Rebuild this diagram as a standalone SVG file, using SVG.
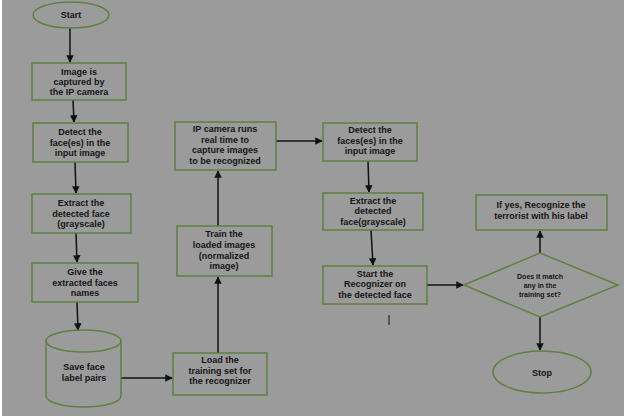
<svg xmlns="http://www.w3.org/2000/svg" width="624" height="418" viewBox="0 0 624 418">
<defs>
<style>
.n{fill:none;stroke:#5f8040;stroke-width:1.5}
.t{font-family:"Liberation Sans",Arial,sans-serif;font-weight:bold;font-size:9px;fill:#151515;text-anchor:middle}
.s{font-size:7px}
.c{stroke:#111;stroke-width:1.5;fill:none}
</style>
<marker id="a" viewBox="0 0 10 10" refX="9" refY="5" markerWidth="5" markerHeight="5" orient="auto"><path d="M0,0 L10,5 L0,10 z" fill="#111"/></marker>
</defs>
<rect x="0" y="0" width="624" height="418" fill="#ffffff"/>
<rect x="2" y="0" width="622" height="416" fill="#9b9b9b"/>

<g id="connectors">
<line class="c" x1="70" y1="28" x2="70" y2="62" marker-end="url(#a)"/>
<line class="c" x1="73" y1="100" x2="74" y2="122" marker-end="url(#a)"/>
<line class="c" x1="75" y1="162" x2="76" y2="193" marker-end="url(#a)"/>
<line class="c" x1="76" y1="233" x2="77" y2="262" marker-end="url(#a)"/>
<line class="c" x1="77" y1="302" x2="78" y2="330" marker-end="url(#a)"/>
<line class="c" x1="121" y1="378" x2="172" y2="378" marker-end="url(#a)"/>
<line class="c" x1="218" y1="353" x2="218" y2="277" marker-end="url(#a)"/>
<line class="c" x1="218" y1="226" x2="218" y2="171" marker-end="url(#a)"/>
<line class="c" x1="276" y1="141" x2="322" y2="141" marker-end="url(#a)"/>
<line class="c" x1="368" y1="161" x2="369" y2="192" marker-end="url(#a)"/>
<line class="c" x1="371" y1="230" x2="373" y2="265" marker-end="url(#a)"/>
<line class="c" x1="427" y1="285" x2="463" y2="285" marker-end="url(#a)"/>
<line class="c" x1="540" y1="253" x2="540" y2="231" marker-end="url(#a)"/>
<line class="c" x1="540" y1="317" x2="540" y2="350" marker-end="url(#a)"/>
<line stroke="#111" stroke-width="1" x1="389" y1="315" x2="389" y2="325"/>
</g>

<g id="start">
<ellipse class="n" cx="71" cy="15" rx="38" ry="13"/>
<text class="t" x="71" y="18">Start</text>
</g>

<g id="capture">
<rect class="n" x="32" y="63" width="94" height="37"/>
<text class="t" x="79" y="75">Image is</text>
<text class="t" x="79" y="85">captured by</text>
<text class="t" x="79" y="95">the IP camera</text>
</g>

<g id="detect1">
<rect class="n" x="33" y="123" width="95" height="39"/>
<text class="t" x="80" y="135">Detect the</text>
<text class="t" x="80" y="146">face(es) in the</text>
<text class="t" x="80" y="156">input image</text>
</g>

<g id="extract1">
<rect class="n" x="32" y="194" width="99" height="39"/>
<text class="t" x="81" y="206">Extract the</text>
<text class="t" x="81" y="217">detected face</text>
<text class="t" x="81" y="227">(grayscale)</text>
</g>

<g id="names">
<rect class="n" x="32" y="263" width="106" height="39"/>
<text class="t" x="85" y="275">Give the</text>
<text class="t" x="85" y="286">extracted faces</text>
<text class="t" x="85" y="296">names</text>
</g>

<g id="save">
<path class="n" d="M46,341 A37.5,11 0 0 1 121,341 L121,396 A37.5,11 0 0 1 46,396 Z"/>
<path class="n" d="M46,341 A37.5,11 0 0 0 121,341"/>
<text class="t" x="84" y="370">Save face</text>
<text class="t" x="84" y="381">label pairs</text>
</g>

<g id="load">
<rect class="n" x="173" y="353" width="94" height="42"/>
<text class="t" x="220" y="363">Load the</text>
<text class="t" x="220" y="374">training set for</text>
<text class="t" x="220" y="384">the recognizer</text>
</g>

<g id="train">
<rect class="n" x="177" y="226" width="95" height="50"/>
<text class="t" x="224" y="237">Train the</text>
<text class="t" x="224" y="248">loaded images</text>
<text class="t" x="224" y="259">(normalized</text>
<text class="t" x="224" y="269">image)</text>
</g>

<g id="ipcam">
<rect class="n" x="175" y="122" width="101" height="48"/>
<text class="t" x="225" y="132">IP camera runs</text>
<text class="t" x="225" y="143">real time to</text>
<text class="t" x="225" y="153">capture images</text>
<text class="t" x="225" y="164">to be recognized</text>
</g>

<g id="detect2">
<rect class="n" x="323" y="123" width="94" height="38"/>
<text class="t" x="370" y="133">Detect the</text>
<text class="t" x="370" y="144">faces(es) in the</text>
<text class="t" x="370" y="154">input image</text>
</g>

<g id="extract2">
<rect class="n" x="323" y="193" width="100" height="37"/>
<text class="t" x="373" y="204">Extract the</text>
<text class="t" x="373" y="214">detected</text>
<text class="t" x="373" y="225">face(grayscale)</text>
</g>

<g id="recognizer">
<rect class="n" x="323" y="266" width="104" height="38"/>
<text class="t" x="375" y="277">Start the</text>
<text class="t" x="375" y="287">Recognizer on</text>
<text class="t" x="375" y="298">the detected face</text>
</g>

<g id="match">
<polygon class="n" points="464,285 540,253 618,285 540,317"/>
<text class="t s" x="540" y="279">Does it match</text>
<text class="t s" x="540" y="288">any in the</text>
<text class="t s" x="540" y="297">training set?</text>
</g>

<g id="recognize">
<rect class="n" x="476" y="195" width="131" height="35"/>
<text class="t" x="541" y="208">If yes, Recognize the</text>
<text class="t" x="541" y="219">terrorist with his label</text>
</g>

<g id="stop">
<ellipse class="n" cx="542" cy="372" rx="49" ry="21"/>
<text class="t" x="542" y="376">Stop</text>
</g>
</svg>
